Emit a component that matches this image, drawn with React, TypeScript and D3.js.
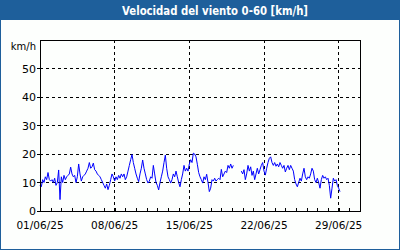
import { useEffect, useRef } from "react";
import * as d3 from "d3";

const width = 400;
const height = 250;
const marginTop = 40;
const marginBottom = 39;
const marginLeft = 40;
const marginRight = 40;

const title = "Velocidad del viento 0-60 [km/h]";
const unitLabel = "km/h";
const yTicks = [0, 10, 20, 30, 40, 50];
const majorDays = [1, 8, 15, 22, 29];

// wind speed, 3-hour steps from 01/06/25 00:00 (null = no data)
const windSpeed: (number | null)[] = [
  9, 8.5, 11, 10, 12, 11, 13.5, 11,
  10.5, 11, 10, 11.5, 9, 10, 14.4, 4,
  12, 10, 12.5, 11, 12, 12.5, 13, 15.4,
  13, 12, 12.5, 10, 12, 16.5, 13, 10.5,
  12, 12.5, 13, 14, 15, 17, 15, 15.5,
  16.8, 14.5, 14, 13, 12.5, 12, 11, 10,
  9, 8, 9.5, 7.5, 9, 11, 13, 12,
  10.5, 12, 11, 12.5, 11.5, 13, 12, 13,
  11, 12, 14, 16, 18, 19.8, 17, 15,
  13, 11.5, 10.3, 13, 15, 17.9, 15, 13,
  11, 9.8, 10.5, 12, 11.5, 16, 13, 10,
  9, 7.4, 10, 12, 14, 17, 19.6, 15,
  12, 11, 9.8, 11, 13, 12, 14, 12,
  10, 8.5, 11, 13, 16, 14, 15, 14,
  16.5, 18, 17, 20.3, 20, 19, 16.4, 13.5,
  12, 11, 9.8, 12, 11, 12.9, 10, 6.8,
  8, 11, 10.5, 11.5, 10.5, 11, 11.5, 11,
  14.6, 12, 13, 14, 13.5, 16, 15, 16.5,
  15, 16, null, null, null, null, null, 14,
  13, 14.5, 11, 13, 16, 14, 15.5, 12.5,
  14, 11, 13, 15, 13, 14.5, 16, 17,
  14, 12.6, 15, 17, 18.5, 19, 17, 16,
  17, 15.7, 16.5, 15.5, 17, 16, 15, 16,
  13.7, 15, 16, 14.5, 16, 15, 14, 11,
  9.5, 8.5, 10, 11.5, 10.5, 13, 15, 12,
  11, 12, 11.5, 13, 15, 14, 11, 10,
  11.5, 10, 8, 11, 12.5, 11.5, 12, 11,
  11.5, 9, 4.5, 8, 11.5, 10.5, 11, 9,
  8, 6.8,
];

const data = windSpeed.map((v, i) => ({
  date: new Date(2025, 5, 1, i * 3),
  value: v,
}));

const App = () => {
  const xAxisRef = useRef<SVGGElement>(null);

  const x = d3
    .scaleTime()
    .domain([new Date(2025, 5, 1), new Date(2025, 6, 1)])
    .range([marginLeft, width - marginRight]);

  const y = d3
    .scaleLinear()
    .domain([0, 60])
    .range([height - marginBottom, marginTop]);

  const chartBottomY = height - marginBottom;

  const line = d3
    .line<{ date: Date; value: number | null }>()
    .defined((d) => d.value !== null)
    .x((d) => x(d.date))
    .y((d) => y(d.value as number));

  useEffect(() => {
    // daily minor ticks pointing up into the plot
    const days = d3.timeDay.range(new Date(2025, 5, 1), new Date(2025, 6, 2));
    const ax = d3
      .axisBottom(x)
      .tickValues(days)
      .tickSize(-3)
      .tickFormat(() => "");
    const g = d3.select(xAxisRef.current).call(ax as any);
    g.select(".domain").remove();
    g.selectAll("line").attr("stroke", "#000").attr("shape-rendering", "crispEdges");
  }, []);

  const majorDates = majorDays.map((d) => new Date(2025, 5, d));

  return (
    <svg
      width={width}
      height={height}
      style={{ position: "absolute", left: 0, top: 0, fontFamily: "DejaVu Sans" }}
    >
      <rect x={0} y={0} width={width} height={height} fill="#1e5f9b" />
      <rect x={1} y={20} width={width - 2} height={height - 21} fill="#fdfffd" />
      <text
        x={215}
        y={15}
        textAnchor="middle"
        fill="#fff"
        fontSize={11.5}
        fontWeight="bold"
        textLength={186}
        lengthAdjust="spacingAndGlyphs"
      >
        {title}
      </text>

      {/* grid */}
      <g shapeRendering="crispEdges">
        {yTicks.slice(1).map((t) => (
          <line
            key={t}
            x1={marginLeft}
            x2={width - marginRight}
            y1={y(t)}
            y2={y(t)}
            stroke="#000"
            strokeDasharray="3,3"
          />
        ))}
        {majorDates.slice(1).map((d) => (
          <line
            key={+d}
            x1={x(d)}
            x2={x(d)}
            y1={marginTop}
            y2={chartBottomY}
            stroke="#000"
            strokeDasharray="3,3"
          />
        ))}
        {yTicks.map((t) => (
          <line key={t} x1={marginLeft - 3} x2={marginLeft} y1={y(t)} y2={y(t)} stroke="#000" />
        ))}
      </g>

      <path d={line(data) || ""} fill="none" stroke="#0000ff" strokeWidth={1} />

      <g ref={xAxisRef} transform={`translate(0,${chartBottomY})`}></g>

      <rect
        x={marginLeft}
        y={marginTop}
        width={width - marginLeft - marginRight}
        height={chartBottomY - marginTop}
        fill="none"
        stroke="#000"
        shapeRendering="crispEdges"
      />

      {/* y labels */}
      {yTicks.map((t) => (
        <text key={t} x={36} y={y(t) + 4} textAnchor="end" fontSize={11} fill="#000">
          {t}
        </text>
      ))}
      <text x={36} y={50} textAnchor="end" fontSize={10} fill="#000">
        {unitLabel}
      </text>

      {/* x labels */}
      {majorDates.map((d) => (
        <text key={+d} x={x(d)} y={229} textAnchor="middle" fontSize={10.5} fill="#000">
          {d3.timeFormat("%d/%m/%y")(d)}
        </text>
      ))}
    </svg>
  );
};

export default App;
